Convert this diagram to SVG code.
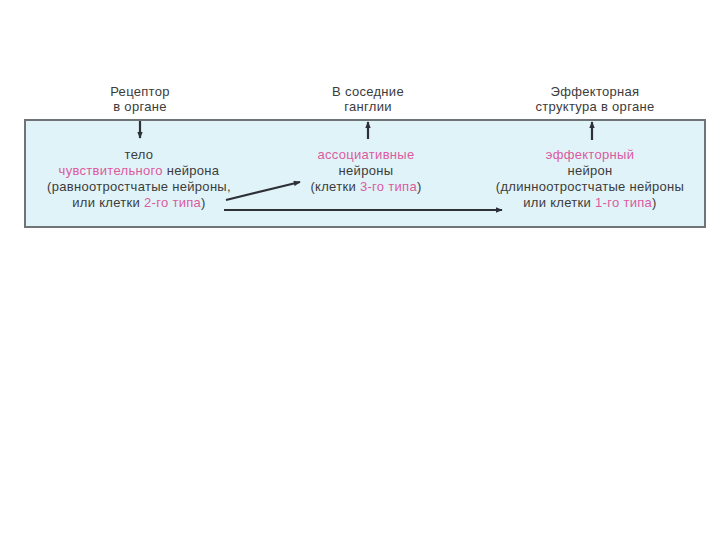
<svg xmlns="http://www.w3.org/2000/svg" width="720" height="540" viewBox="0 0 720 540">
<defs>
<style>
text{font-family:"Liberation Sans",Arial,sans-serif;font-size:13px;letter-spacing:0.3px;fill:#3c3c3c;text-anchor:middle}
.p{fill:#dc5aa0}
.ln{stroke:#2e3038;stroke-width:2.2;fill:none}
</style>
<marker id="ah" viewBox="0 0 10 8" refX="9" refY="4" markerWidth="7" markerHeight="5.5" orient="auto" markerUnits="userSpaceOnUse">
<path d="M0,0 L10,4 L0,8 z" fill="#2e3038"/>
</marker>
</defs>
<rect width="720" height="540" fill="#ffffff"/>
<g id="panel">
<rect x="25" y="120" width="680" height="107" fill="#e0f3f8" stroke="#6f7478" stroke-width="2"/>
</g>
<g id="receptor">
<text x="140" y="96">Рецептор</text>
<text x="140" y="111">в органе</text>
</g>
<g id="ganglia">
<text x="368" y="96">В  соседние</text>
<text x="368" y="111">ганглии</text>
</g>
<g id="effector-structure">
<text x="595" y="96">Эффекторная</text>
<text x="595" y="111">структура в органе</text>
</g>
<g id="sensory">
<text x="139" y="159">тело</text>
<text x="139" y="175"><tspan class="p">чувствительного</tspan> нейрона</text>
<text x="139" y="191">(равноотростчатые нейроны,</text>
<text x="139" y="207">или клетки <tspan class="p">2-го типа</tspan>)</text>
</g>
<g id="associative">
<text x="366" y="159" class="p">ассоциативные</text>
<text x="366" y="175">нейроны</text>
<text x="366" y="191">(клетки <tspan class="p">3-го типа</tspan>)</text>
</g>
<g id="effector">
<text x="590" y="159" class="p">эффекторный</text>
<text x="590" y="175">нейрон</text>
<text x="590" y="191">(длинноотростчатые нейроны</text>
<text x="590" y="207">или клетки <tspan class="p">1-го типа</tspan>)</text>
</g>
<g id="connectors">
<line class="ln" x1="140" y1="121" x2="140" y2="138" marker-end="url(#ah)"/>
<line class="ln" x1="368" y1="139" x2="368" y2="122" marker-end="url(#ah)"/>
<line class="ln" x1="592" y1="140" x2="592" y2="122" marker-end="url(#ah)"/>
<line class="ln" x1="226" y1="200" x2="300" y2="182" marker-end="url(#ah)"/>
<line class="ln" x1="224" y1="210" x2="502" y2="210" marker-end="url(#ah)"/>
</g>
</svg>
